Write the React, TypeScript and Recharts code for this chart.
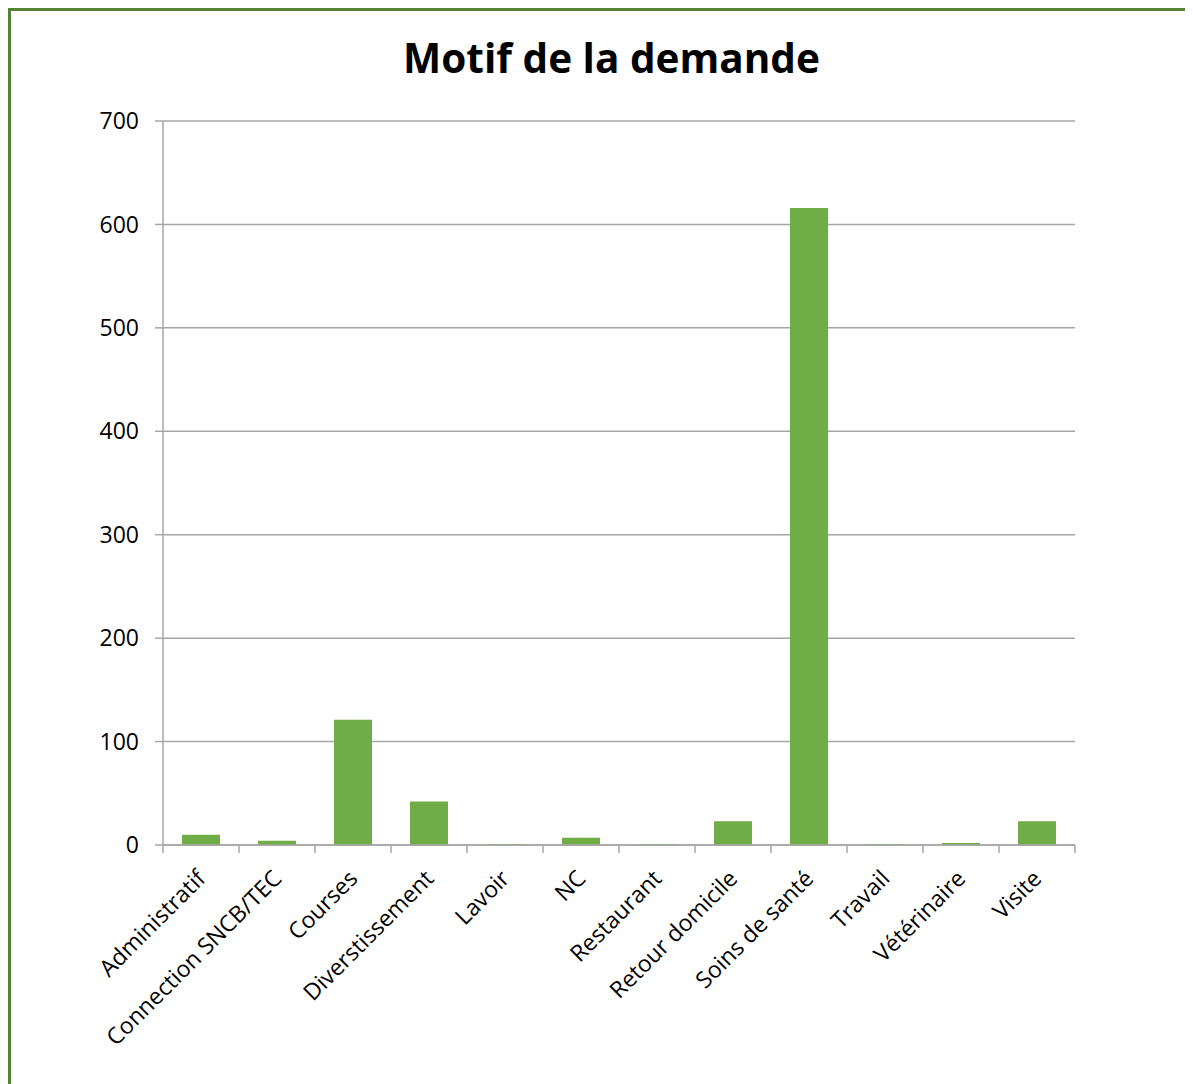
import { BarChart, Bar, XAxis, YAxis, CartesianGrid } from 'recharts';

const categories = [
  'Administratif',
  'Connection SNCB/TEC',
  'Courses',
  'Diverstissement',
  'Lavoir',
  'NC',
  'Restaurant',
  'Retour domicile',
  'Soins de santé',
  'Travail',
  'Vétérinaire',
  'Visite',
];
const counts = [10, 4, 121, 42, 1, 7, 1, 23, 616, 1, 2, 23];
const yTicks = [0, 100, 200, 300, 400, 500, 600, 700];

const data = categories.map((name, i) => ({ name, value: counts[i] }));

const FONT = '"Open Sans", sans-serif';
const GRAY = '#a6a6a6'; // axis + gridlines
const GREEN = '#70ad47'; // bars

// Excel style: tick marks between categories, label rotated under the centre
const CategoryTick = (props: any) => {
  const { x, y, payload, index } = props;
  const half = payload?.offset || 38;
  const last = index === categories.length - 1;
  const lx = x + 6;
  const ly = y + 35;
  return (
    <g>
      <line x1={x - half} y1={y} x2={x - half} y2={y + 8} stroke={GRAY} strokeWidth={1.5} />
      {last && <line x1={x + half} y1={y} x2={x + half} y2={y + 8} stroke={GRAY} strokeWidth={1.5} />}
      <text
        x={lx}
        y={ly}
        textAnchor="end"
        fontFamily={FONT}
        fontSize={23}
        fill="#000"
        transform={`rotate(-45, ${lx}, ${ly})`}
      >
        {payload.value}
      </text>
    </g>
  );
};

export default function App() {
  return (
    <div
      style={{
        position: 'relative',
        width: 1182,
        height: 1073,
        borderLeft: '3px solid #548235',
        borderTop: '3px solid #548235',
      }}
    >
      <div
        style={{
          position: 'absolute',
          top: 19,
          left: 0,
          width: 1201,
          textAlign: 'center',
          fontFamily: FONT,
          fontWeight: 700,
          fontSize: 40.5,
          color: '#000',
        }}
      >
        Motif de la demande
      </div>
      <BarChart
        width={1182}
        height={1073}
        data={data}
        margin={{ top: 110, right: 118, left: 0, bottom: 0 }}
        barCategoryGap="25%"
      >
        <CartesianGrid vertical={false} stroke={GRAY} strokeWidth={1.5} />
        <XAxis
          dataKey="name"
          interval={0}
          height={239}
          stroke={GRAY}
          strokeWidth={1.5}
          tickLine={false}
          tickSize={0}
          tickMargin={0}
          tick={<CategoryTick />}
        />
        <YAxis
          width={152}
          domain={[0, 700]}
          ticks={yTicks}
          interval={0}
          stroke={GRAY}
          strokeWidth={1.5}
          tickSize={8}
          tickMargin={16}
          tick={{ fontFamily: FONT, fontSize: 23, fill: '#000' }}
        />
        <Bar dataKey="value" fill={GREEN} isAnimationActive={false} />
      </BarChart>
    </div>
  );
}
